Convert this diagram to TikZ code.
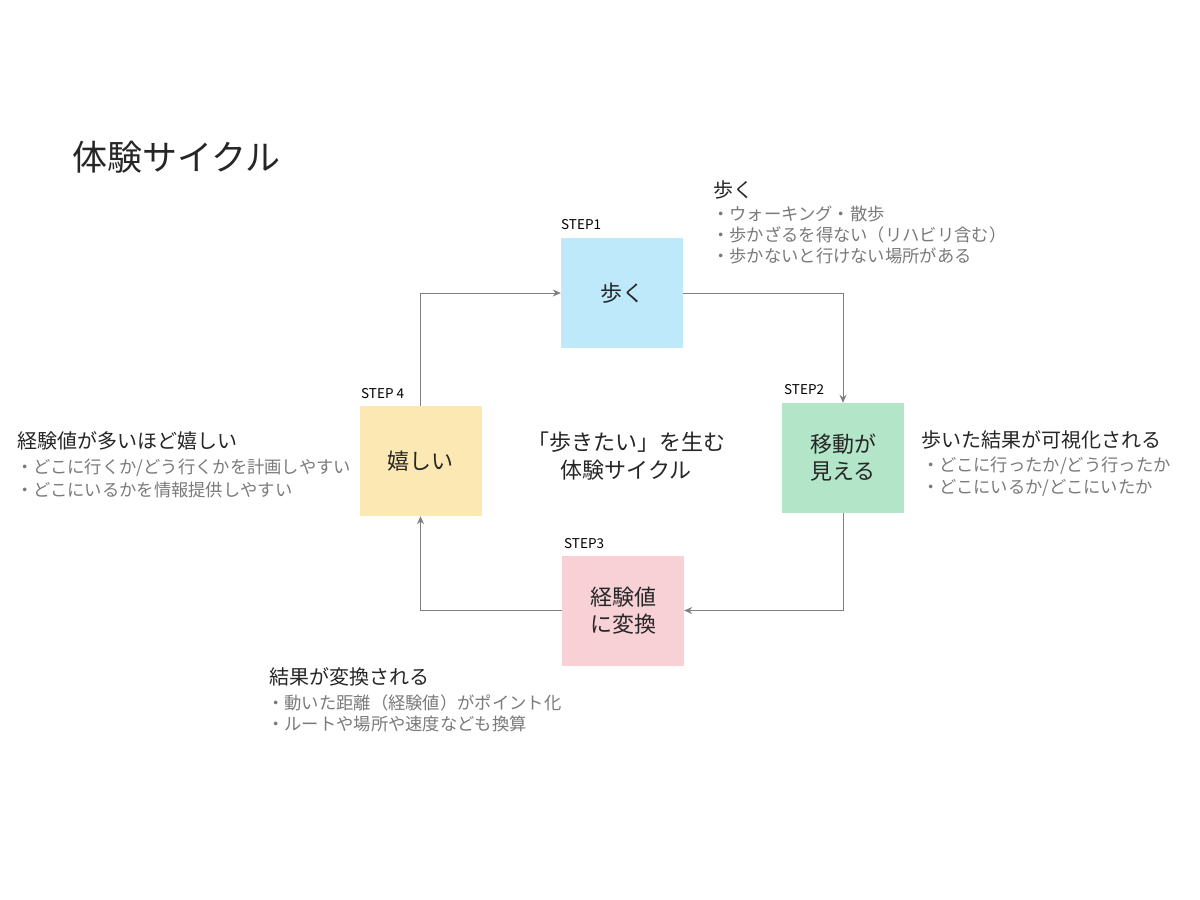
\documentclass[tikz,border=0pt]{standalone}
\usepackage{fontspec}
\setmainfont{Noto Sans CJK JP}
\usetikzlibrary{arrows.meta}
\definecolor{bluebox}{HTML}{BDE9FB}
\definecolor{greenbox}{HTML}{B3E5C9}
\definecolor{pinkbox}{HTML}{F8D1D7}
\definecolor{yellowbox}{HTML}{FCE8B2}
\definecolor{arrowgray}{HTML}{7F7F7F}
\definecolor{textdark}{HTML}{262626}
\definecolor{textgray}{HTML}{7A7A7A}
\begin{document}
\begin{tikzpicture}[x=1pt,y=-1pt,
  stepbox/.style={minimum width=122pt, minimum height=110pt, inner sep=0pt, align=center,
    font=\fontsize{22}{27}\selectfont, text=textdark},
  steplabel/.style={anchor=west, inner sep=0pt, font=\fontsize{13.5}{15}\selectfont, text=black},
  flow/.style={draw=arrowgray, line width=0.9pt, -{Stealth[length=8pt,width=7pt]}},
  head/.style={anchor=west, inner sep=0pt, font=\fontsize{20}{22}\selectfont, text=textdark},
  item/.style={anchor=west, inner sep=0pt, font=\fontsize{17.3}{19}\selectfont, text=textgray}]
\fill[white] (0,0) rectangle (1200,900);
\useasboundingbox (0,0) rectangle (1200,900);

\node[anchor=west, inner sep=0pt, font=\fontsize{35}{38}\selectfont, text=textdark] (title) at (72,157) {体験サイクル};

\node[stepbox, fill=bluebox] (s1) at (622,293) {歩く};
\node[stepbox, fill=greenbox] (s2) at (843,458) {移動が\\見える};
\node[stepbox, fill=pinkbox] (s3) at (623,610.5) {経験値\\に変換};
\node[stepbox, fill=yellowbox] (s4) at (420.5,461) {嬉しい};

\node[steplabel] (l1) at (561,225) {STEP1};
\node[steplabel] (l2) at (784,390) {STEP2};
\node[steplabel] (l3) at (564,544) {STEP3};
\node[steplabel] (l4) at (361,394) {STEP 4};

\draw[flow] (s1.east) -| (s2.north);
\draw[flow] (s2.south) |- (s3.east);
\draw[flow] (s3.west) -| (s4.south);
\draw[flow] (s4.north) |- (s1.west);

\node[align=center, inner sep=0pt, font=\fontsize{22}{28}\selectfont, text=textdark] (center) at (626,456) {「歩きたい」を生む\\体験サイクル};

\node[head] (h1) at (713,190) {歩く};
\node[item] (a1) at (712,214) {・ウォーキング・散歩};
\node[item] (a2) at (712,235) {・歩かざるを得ない（リハビリ含む）};
\node[item] (a3) at (712,256) {・歩かないと行けない場所がある};

\node[head] (h2) at (921,440) {歩いた結果が可視化される};
\node[item] (b1) at (922,466) {・どこに行ったか/どう行ったか};
\node[item] (b2) at (922,488) {・どこにいるか/どこにいたか};

\node[head] (h3) at (269,677) {結果が変換される};
\node[item] (c1) at (267,703) {・動いた距離（経験値）がポイント化};
\node[item] (c2) at (267,724) {・ルートや場所や速度なども換算};

\node[head] (h4) at (17,441) {経験値が多いほど嬉しい};
\node[item] (d1) at (16,468) {・どこに行くか/どう行くかを計画しやすい};
\node[item] (d2) at (16,490) {・どこにいるかを情報提供しやすい};
\end{tikzpicture}
\end{document}
